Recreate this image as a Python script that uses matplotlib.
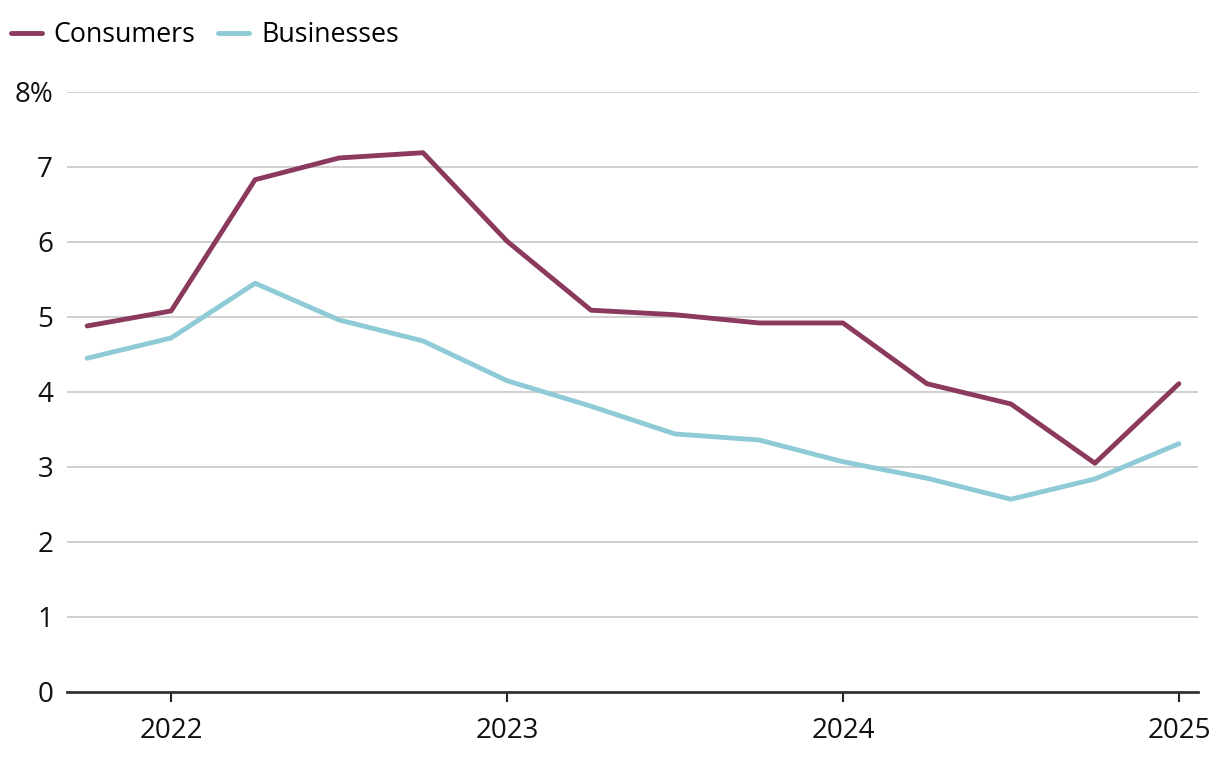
import matplotlib.pyplot as plt
import numpy as np

# quarterly points, 2021 Q4 through 2025 Q1
quarters = [2021.75 + 0.25 * i for i in range(14)]
consumers = [4.88, 5.08, 6.83, 7.12, 7.19, 6.01, 5.09, 5.03, 4.92, 4.92, 4.11, 3.84, 3.05, 4.11]
businesses = [4.45, 4.72, 5.45, 4.96, 4.68, 4.15, 3.81, 3.44, 3.36, 3.07, 2.85, 2.57, 2.84, 3.31]
year_ticks = [2022, 2023, 2024, 2025]
y_ticks = [0, 1, 2, 3, 4, 5, 6, 7, 8]
y_labels = ['0', '1', '2', '3', '4', '5', '6', '7', '8%']

plt.rcParams['font.family'] = ['Open Sans', 'DejaVu Sans']

fig = plt.figure(figsize=(12.2, 7.6), dpi=100)
ax = fig.add_axes([0.0549, 0.0895, 0.9271, 0.7895])

ax.plot(quarters, consumers, color='#8b3a5e', lw=3.5, label='Consumers', solid_capstyle='round', solid_joinstyle='round')
ax.plot(quarters, businesses, color='#8ecbd6', lw=3.5, label='Businesses', solid_capstyle='round', solid_joinstyle='round')

ax.set_xlim(2021.69, 2025.057)
ax.set_ylim(0, 8)
ax.set_yticks(y_ticks)
ax.set_yticklabels(y_labels)
ax.set_xticks(year_ticks)
ax.set_xticklabels([str(y) for y in year_ticks])

ax.grid(axis='y', color='#cccccc', lw=1.3)
ax.set_axisbelow(True)
for s in ['top', 'right', 'left']:
    ax.spines[s].set_visible(False)
ax.spines['bottom'].set_color('#333333')
ax.spines['bottom'].set_linewidth(2)
ax.spines['bottom'].set_zorder(3)

ax.tick_params(axis='y', length=0, pad=10, labelsize=20, labelcolor='#111111')
ax.tick_params(axis='x', length=7, width=1.5, color='#222222', pad=11, labelsize=20, labelcolor='#111111')

fig.legend(loc='upper left', bbox_to_anchor=(0.0, 0.986), ncol=2, frameon=False,
           fontsize=19.3, handlelength=1.15, handletextpad=0.45, columnspacing=0.85,
           borderaxespad=0.0)

fig.savefig('out.png', dpi=100)
